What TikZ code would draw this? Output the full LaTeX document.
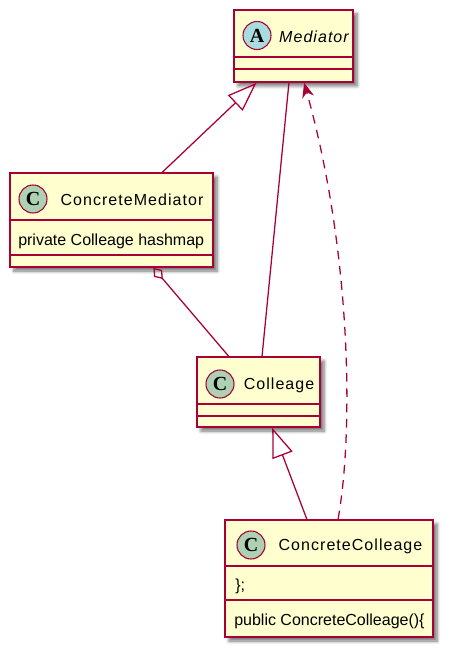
\documentclass[tikz,border=0pt]{standalone}
\usepackage{fontspec}
\setmainfont{Liberation Sans}
\newfontfamily\namefont[LetterSpace=6.5]{Liberation Sans}
\newfontfamily\glyphfont{Liberation Serif}
\usetikzlibrary{arrows.meta,shadows.blur,calc}
\definecolor{bord}{HTML}{A80036}
\definecolor{cfill}{HTML}{FEFECE}
\definecolor{cgreen}{HTML}{ADD1B2}
\definecolor{cblue}{HTML}{A9DCDF}
\tikzset{
 cls/.style={draw=bord, fill=cfill, line width=1.3pt, inner sep=0pt,
   blur shadow={shadow xshift=3pt, shadow yshift=-3pt, shadow blur radius=2.5pt, shadow blur steps=6, shadow opacity=55}},
 circ/.style={circle, draw=bord, line width=0.8pt, minimum size=21pt, inner sep=0pt,
   font=\glyphfont\bfseries\fontsize{15pt}{16pt}\selectfont},
 cname/.style={font=\namefont\fontsize{12pt}{14pt}\selectfont, inner sep=0pt, anchor=base},
 attr/.style={font=\fontsize{12pt}{14pt}\selectfont, anchor=base west, inner sep=0pt},
 sepline/.style={draw=bord, line width=1.3pt},
 link/.style={draw=bord, line width=0.95pt},
 gen/.style={-{Triangle[open,length=22pt,width=16pt]}},
}
\begin{document}
\begin{tikzpicture}[x=0.75pt,y=-0.75pt]
\useasboundingbox (0,0) rectangle (454,655);

% Mediator
\node[cls, minimum width=119*0.75pt, minimum height=72*0.75pt] (med) at (293.5,46) {};
\draw[sepline] ($(med.north west)+(0,48)$) -- ($(med.north east)+(0,48)$);
\draw[sepline] ($(med.north west)+(0,60)$) -- ($(med.north east)+(0,60)$);
\node[circ, fill=cblue] (medc) at (257,35.5) {A};
\node[cname] (medn) at (314,42.5) {\itshape Mediator};

% ConcreteMediator
\node[cls, minimum width=203*0.75pt, minimum height=94*0.75pt] (cm) at (111.5,220) {};
\draw[sepline] ($(cm.north west)+(0,48)$) -- ($(cm.north east)+(0,48)$);
\draw[sepline] ($(cm.north west)+(0,83)$) -- ($(cm.north east)+(0,83)$);
\node[circ, fill=cgreen] (cmc) at (33,199) {C};
\node[cname] (cmn) at (132,206) {ConcreteMediator};
\node[attr] (cma) at (18,246) {private Colleage hashmap};

% Colleage
\node[cls, minimum width=123*0.75pt, minimum height=70*0.75pt] (col) at (258.5,392) {};
\draw[sepline] ($(col.north west)+(0,48)$) -- ($(col.north east)+(0,48)$);
\draw[sepline] ($(col.north west)+(0,60)$) -- ($(col.north east)+(0,60)$);
\node[circ, fill=cgreen] (colc) at (220,384) {C};
\node[cname] (coln) at (279,389.5) {Colleage};

% ConcreteColleage
\node[cls, minimum width=208*0.75pt, minimum height=117*0.75pt] (cc) at (329,578.5) {};
\draw[sepline] ($(cc.north west)+(0,47)$) -- ($(cc.north east)+(0,47)$);
\draw[sepline] ($(cc.north west)+(0,81)$) -- ($(cc.north east)+(0,81)$);
\node[circ, fill=cgreen] (ccc) at (251,545) {C};
\node[cname] (ccn) at (350.5,550.5) {ConcreteColleage};
\node[attr] (cca1) at (235,590) {\};};
\node[attr] (cca2) at (234,625) {public ConcreteColleage()\{};

% connectors
\draw[link, gen] ($(cm.north west)!{(162-10)/203}!(cm.north east)$) -- ($(med.south west)!{(257-234)/119}!(med.south east)$);
\draw[link] ($(med.south west)!{(289-234)/119}!(med.south east)$) -- ($(col.north west)!{(262-197)/123}!(col.north east)$);
\draw[link, {Diamond[open,length=11pt,width=8pt]}-] ($(cm.south west)!{(153-10)/203}!(cm.south east)$) -- ($(col.north west)!{(229-197)/123}!(col.north east)$);
\draw[link, gen] ($(cc.north west)!{(307-225)/208}!(cc.north east)$) -- ($(col.south west)!{(272-197)/123}!(col.south east)$);
\draw[link, dash pattern=on 6.5pt off 5pt, -{Stealth[length=11pt,width=9pt,inset=3.5pt]}]
  ($(cc.north west)!{(338-225)/208}!(cc.north east)$) .. controls (354,430) and (351,250) .. ($(med.south west)!{(304-234)/119}!(med.south east)$);
\end{tikzpicture}
\end{document}
